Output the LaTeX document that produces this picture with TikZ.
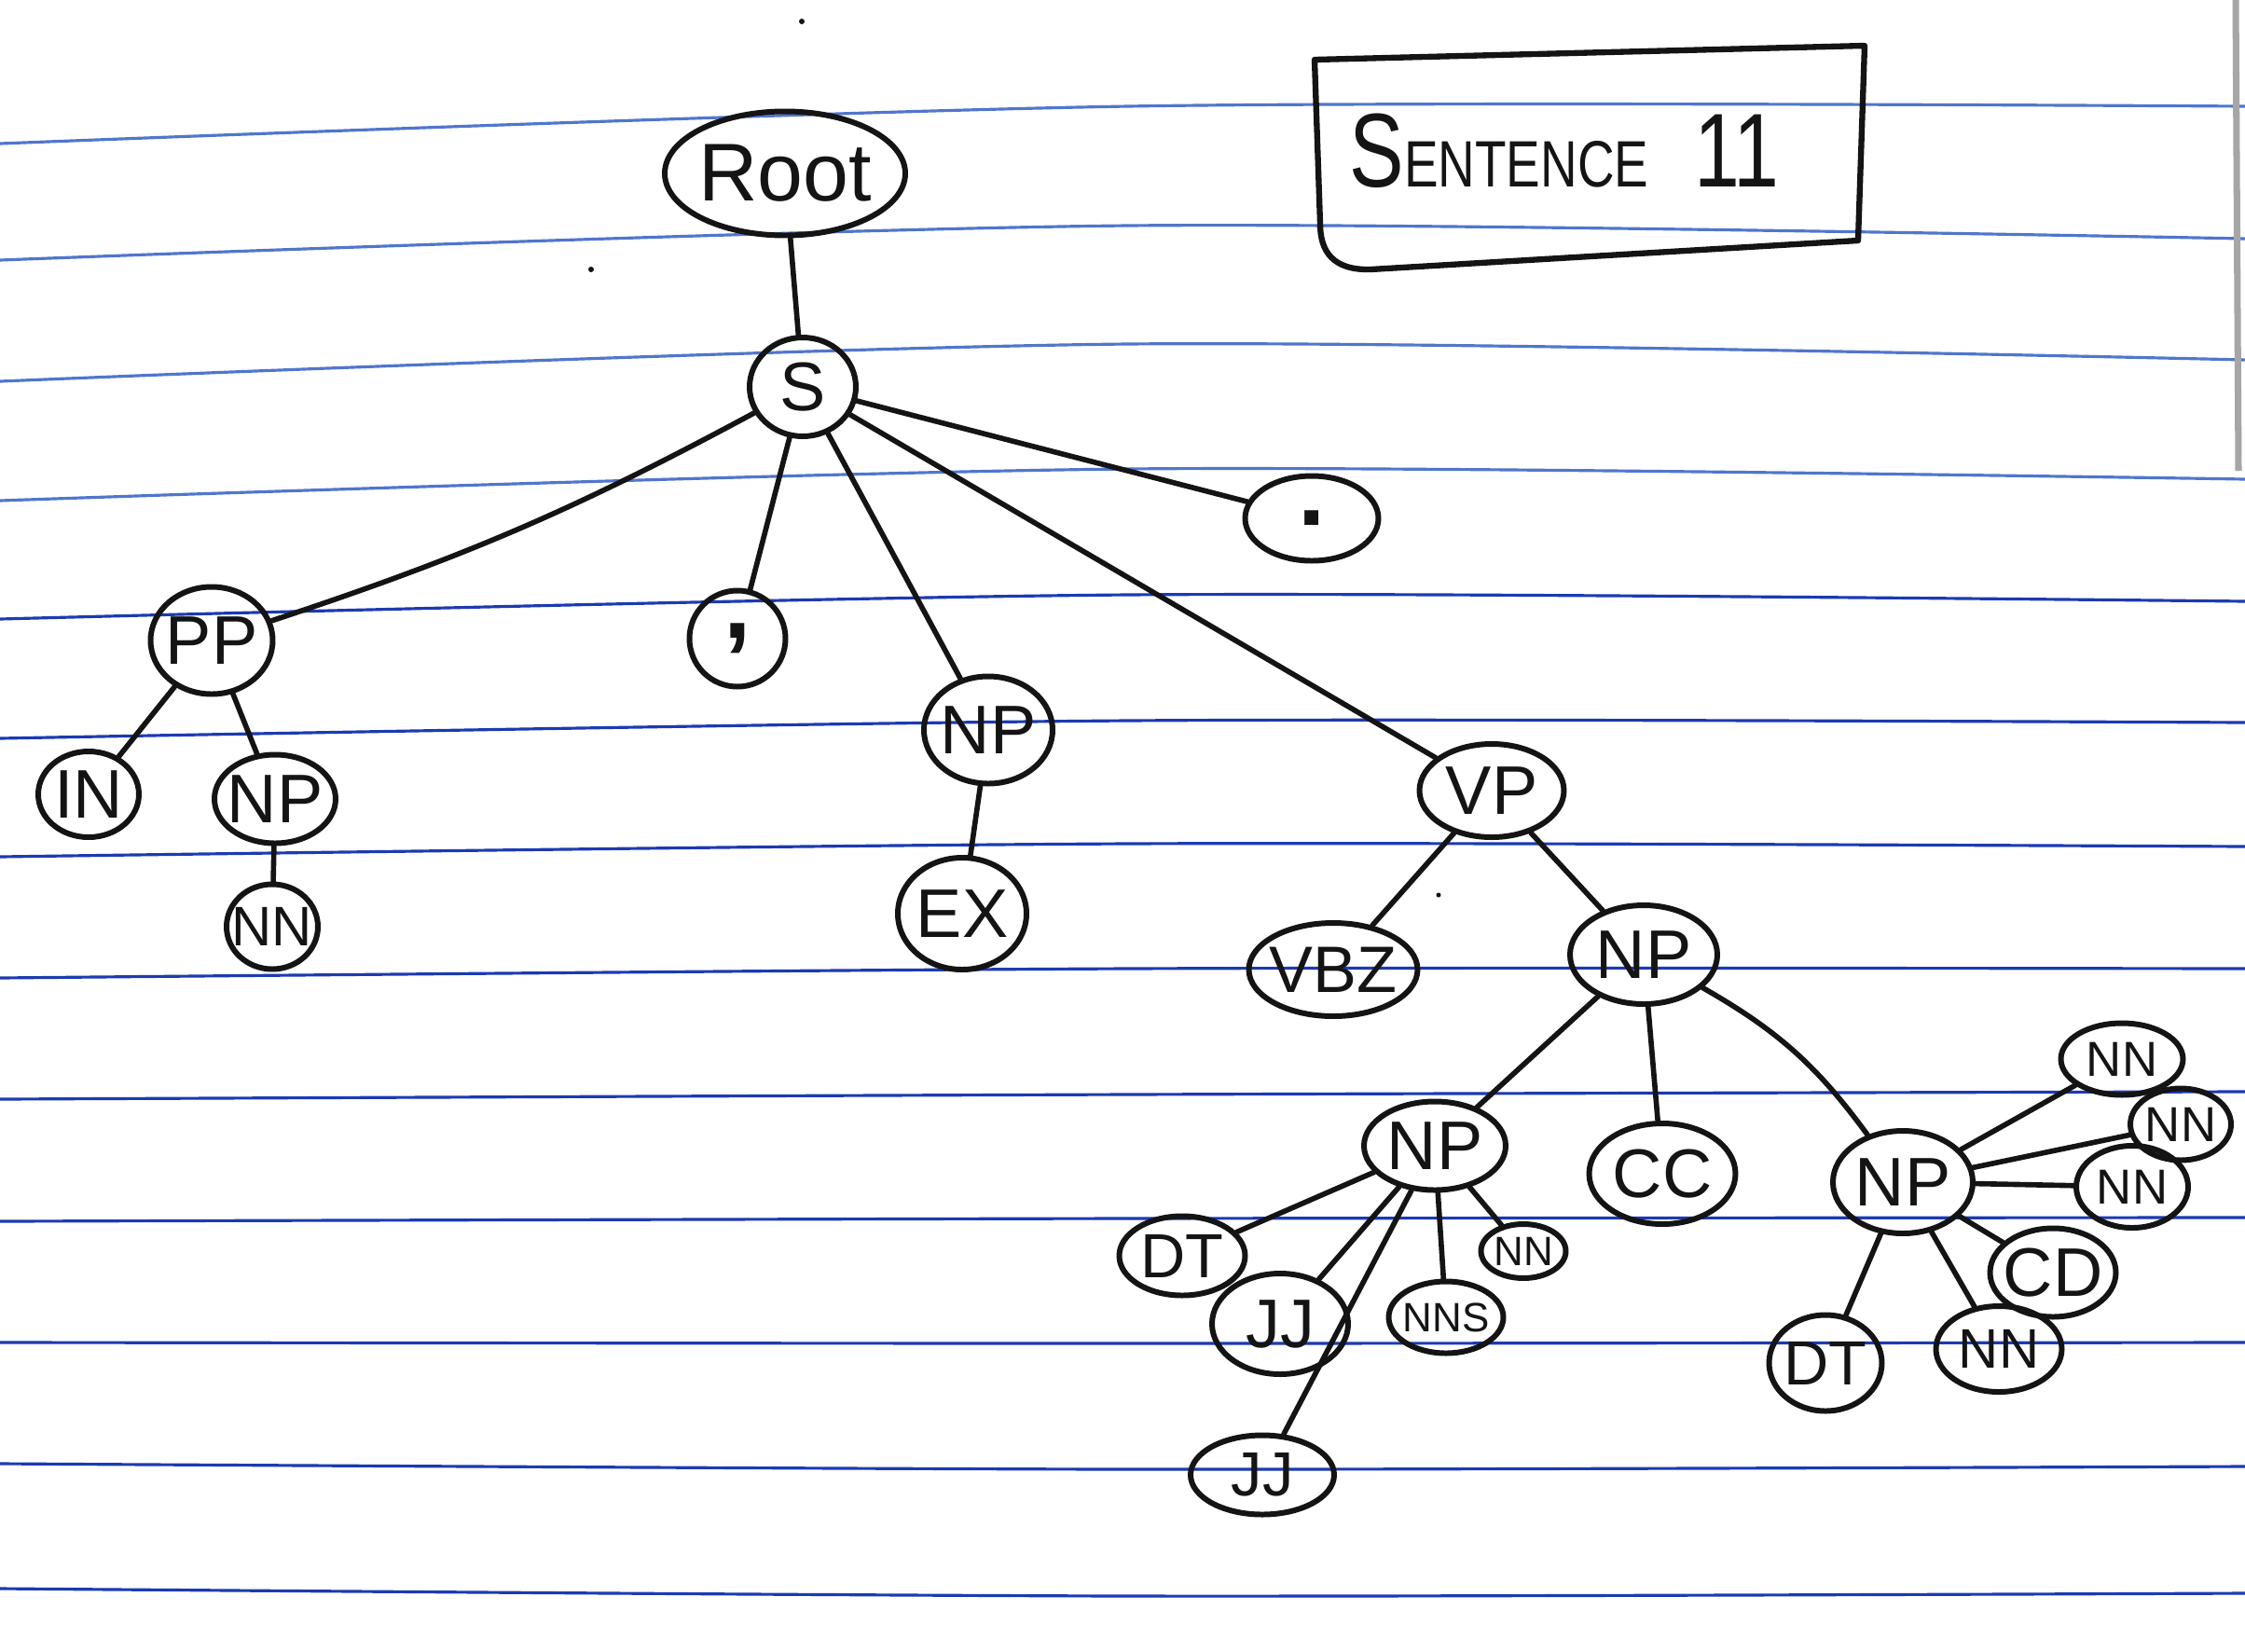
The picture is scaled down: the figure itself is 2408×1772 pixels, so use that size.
\documentclass[tikz,border=0pt]{standalone}
\usepackage{fontspec}
\usepackage{graphicx}
\setmainfont{Liberation Sans}
\usetikzlibrary{shapes.geometric}

\definecolor{ink}{HTML}{141414}
\definecolor{ruleA}{RGB}{80,118,205}
\definecolor{ruleB}{RGB}{28,58,178}

% label of zero width, so the oval keeps the size it is given
\newcommand{\tlab}[1]{\makebox[0pt]{#1}}

\tikzset{
  tn/.style={ellipse, draw=ink, line width=1.7pt, inner sep=0pt, text=ink,
             font=\fontsize{21}{21}\selectfont},
  small/.style={font=\fontsize{15}{15}\selectfont},
  tiny/.style={font=\fontsize{12.5}{12.5}\selectfont},
  big/.style={font=\fontsize{25}{25}\selectfont},
  wh/.style 2 args={minimum width=#1*0.01cm, minimum height=#2*0.01cm},
  edge/.style={draw=ink, line width=1.6pt, line cap=round},
  ruleline/.style={line width=0.9pt},
}

\begin{document}
\begin{tikzpicture}[x=0.01cm, y=-0.01cm]
\useasboundingbox (0,0) rectangle (2408,1772);
\fill[white] (0,0) rectangle (2408,1772);

% notebook rules (left, middle, right heights)
\foreach \a/\b/\c/\col in {154/114/114/ruleA, 279/242/256/ruleA, 409/369/386/ruleA,
    537/503/514/ruleA, 664/638/645/ruleB, 792/773/775/ruleB, 919/905/908/ruleB,
    1049/1039/1039/ruleB, 1179/1174/1171/ruleB, 1310/1307/1306/ruleB,
    1440/1441/1440/ruleB, 1570/1576/1573/ruleB, 1704/1712/1709/ruleB}
  \draw[ruleline, \col] plot[smooth] coordinates {(0,\a) (1210,\b) (2408,\c)};

% page edge
\draw[gray!70, line width=2pt] (2398,0) -- (2401,505);

% stray pen marks
\fill[ink] (860,23) circle (3);
\fill[ink] (634,289) circle (3);
\fill[ink] (1543,960) circle (2.5);

% title box
\draw[ink, line width=1.8pt, line join=round]
  (1410,64) -- (2000,49) -- (1993,258) -- (1470,289)
  .. controls (1430,290) and (1416,270) .. (1416,240) -- cycle;
\node[text=ink, inner sep=0pt] (title) at (1678,162)
  {\scalebox{0.78}[1]{\fontsize{32}{32}\selectfont S\fontsize{20}{20}\selectfont ENTENCE\fontsize{32}{32}\selectfont\ \ 11}};

% tree nodes
\node[tn, big, wh={258}{133}] (root) at (842,186) {\tlab{Root}};
\node[tn, wh={114}{106}] (s) at (861,415) {\tlab{S}};
\node[tn, wh={143}{91}, font=\fontsize{30}{30}\bfseries] (dot) at (1407,556) {\tlab{.}};
\node[tn, wh={131}{115}] (pp) at (227,687) {\tlab{PP}};
\node[tn, wh={103}{103}, font=\fontsize{30}{30}\bfseries] (comma) at (791,685) {\tlab{,}};
\node[tn, wh={138}{115}] (npm) at (1060,783) {\tlab{NP}};
\node[tn, wh={155}{100}] (vp) at (1600,848) {\tlab{VP}};
\node[tn, wh={108}{92}] (in) at (95,852) {\tlab{IN}};
\node[tn, wh={130}{95}] (npl) at (295,857) {\tlab{NP}};
\node[tn, wh={98}{91}, font=\fontsize{17}{17}\selectfont] (nnl) at (292,994) {\tlab{NN}};
\node[tn, wh={138}{120}] (ex) at (1032,980) {\tlab{EX}};
\node[tn, wh={181}{100}, font=\fontsize{20}{20}\selectfont] (vbz) at (1430,1040) {\tlab{VBZ}};
\node[tn, wh={158}{106}] (npv) at (1763,1024) {\tlab{NP}};
\node[tn, wh={152}{95}] (npa) at (1539,1229) {\tlab{NP}};
\node[tn, wh={157}{108}] (cc) at (1783,1259) {\tlab{CC}};
\node[tn, wh={150}{110}] (npb) at (2041,1268) {\tlab{NP}};

% children of the left inner NP
\node[tn, wh={135}{85}, font=\fontsize{19}{19}\selectfont] (dta) at (1268,1347) {\tlab{DT}};
\node[tn, wh={146}{108}] (jja) at (1373,1420) {\tlab{JJ}};
\node[tn, wh={154}{85}, font=\fontsize{19}{19}\selectfont] (jjb) at (1354,1582) {\tlab{JJ}};
\node[tn, tiny, wh={123}{77}] (nns) at (1551,1413) {\tlab{NNS}};
\node[tn, tiny, wh={91}{58}] (nna) at (1634,1342) {\tlab{NN}};

% children of the right inner NP
\node[tn, small, wh={131}{77}] (nnb) at (2276,1136) {\tlab{NN}};
\node[tn, small, wh={108}{77}] (nnc) at (2339,1206) {\tlab{NN}};
\node[tn, small, wh={120}{88}] (nnd) at (2287,1273) {\tlab{NN}};
\node[tn, wh={135}{95}] (cd) at (2202,1365) {\tlab{CD}};
\node[tn, font=\fontsize{17}{17}\selectfont, wh={135}{92}] (nne) at (2144,1447) {\tlab{NN}};
\node[tn, font=\fontsize{19}{19}\selectfont, wh={121}{103}] (dtb) at (1958,1462) {\tlab{DT}};

% connectors
\draw[edge] (root) -- (s);
\draw[edge] (s) to[bend left=5] (pp);
\draw[edge] (s) -- (comma);
\draw[edge] (s) -- (npm);
\draw[edge] (s) -- (vp);
\draw[edge] (s) -- (dot);
\draw[edge] (pp) -- (in);
\draw[edge] (pp) -- (npl);
\draw[edge] (npl) -- (nnl);
\draw[edge] (npm) -- (ex);
\draw[edge] (vp) -- (vbz);
\draw[edge] (vp) -- (npv);
\draw[edge] (npv) -- (npa);
\draw[edge] (npv) -- (cc);
\draw[edge] (npv) to[bend left=12] (npb);
\draw[edge] (npa) -- (dta);
\draw[edge] (npa) -- (jja);
\draw[edge] (npa) -- (jjb);
\draw[edge] (npa) -- (nns);
\draw[edge] (npa) -- (nna);
\draw[edge] (npb) -- (nnb);
\draw[edge] (npb) -- (nnc);
\draw[edge] (npb) -- (nnd);
\draw[edge] (npb) -- (cd);
\draw[edge] (npb) -- (nne);
\draw[edge] (npb) -- (dtb);
\end{tikzpicture}
\end{document}
